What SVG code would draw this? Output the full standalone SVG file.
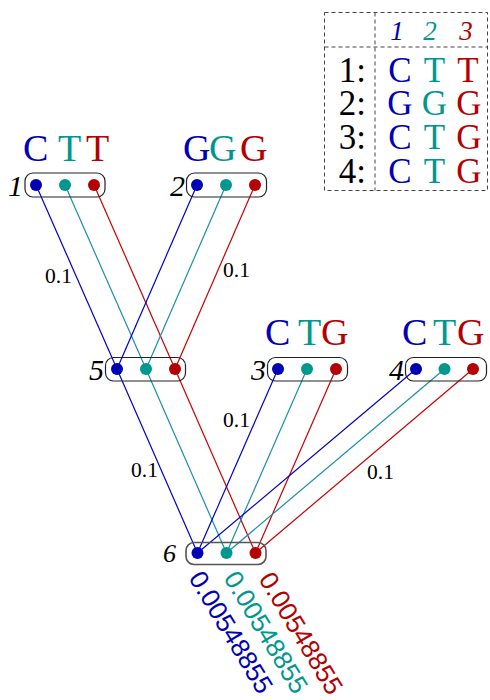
<svg xmlns="http://www.w3.org/2000/svg" width="490" height="700" viewBox="0 0 490 700">
<style>
.bx{fill:none;stroke:#222;stroke-width:1.2}
.nl{font-family:"Liberation Serif",serif;font-style:italic;font-size:30px;fill:#000;text-anchor:end}
.seq{font-family:"Liberation Serif",serif;font-size:38px}
.tb{font-family:"Liberation Serif",serif;font-size:35px;text-anchor:middle}
.hd{font-family:"Liberation Serif",serif;font-style:italic;font-size:27px;text-anchor:middle}
.el{font-family:"Liberation Serif",serif;font-size:21.5px;fill:#000}
.pr{font-family:"Liberation Sans",sans-serif;font-size:26px}
.b{fill:#0000b4}.t{fill:#00978f}.r{fill:#b40000}
.lb{stroke:#0000c8;stroke-width:1.2;fill:none}
.lt{stroke:#1a8fac;stroke-width:1.2;fill:none}
.lr{stroke:#c80000;stroke-width:1.2;fill:none}
.dash{fill:none;stroke:#444;stroke-width:1;stroke-dasharray:4,3}
</style>
<g id="connectors">
<line class="lb" x1="36" y1="185" x2="117" y2="369"/>
<line class="lt" x1="65" y1="185" x2="146" y2="369"/>
<line class="lr" x1="94" y1="185" x2="175" y2="369"/>
<line class="lb" x1="197" y1="185" x2="117" y2="369"/>
<line class="lt" x1="226" y1="185" x2="146" y2="369"/>
<line class="lr" x1="255" y1="185" x2="175" y2="369"/>
<line class="lb" x1="117" y1="369" x2="197.5" y2="553"/>
<line class="lt" x1="146" y1="369" x2="226.5" y2="553"/>
<line class="lr" x1="175" y1="369" x2="255.5" y2="553"/>
<line class="lb" x1="278" y1="369" x2="197.5" y2="553"/>
<line class="lt" x1="307" y1="369" x2="226.5" y2="553"/>
<line class="lr" x1="336" y1="369" x2="255.5" y2="553"/>
<line class="lb" x1="416" y1="369" x2="197.5" y2="553"/>
<line class="lt" x1="444.5" y1="369" x2="226.5" y2="553"/>
<line class="lr" x1="473" y1="369" x2="255.5" y2="553"/>
<text class="el" x="45" y="283">0.1</text>
<text class="el" x="223" y="277">0.1</text>
<text class="el" x="223" y="427">0.1</text>
<text class="el" x="131" y="477">0.1</text>
<text class="el" x="367" y="479">0.1</text>
</g>
<g id="node1">
<text class="seq" y="161"><tspan class="b" x="23">C</tspan><tspan class="t" x="58">T</tspan><tspan class="r" x="86">T</tspan></text>
<rect class="bx" x="25" y="173" width="80" height="24" rx="8"/>
<text class="nl" x="23" y="196">1</text>
<circle class="b" cx="36" cy="185" r="6"/><circle class="t" cx="65" cy="185" r="6"/><circle class="r" cx="94" cy="185" r="6"/>
</g>
<g id="node2">
<text class="seq" y="161"><tspan class="b" x="183">G</tspan><tspan class="t" x="209">G</tspan><tspan class="r" x="240">G</tspan></text>
<rect class="bx" x="186.5" y="173" width="80" height="24" rx="8"/>
<text class="nl" x="185" y="196">2</text>
<circle class="b" cx="197" cy="185" r="6"/><circle class="t" cx="226" cy="185" r="6"/><circle class="r" cx="255" cy="185" r="6"/>
</g>
<g id="node5">
<rect class="bx" x="105.5" y="357.5" width="80" height="23.5" rx="8"/>
<text class="nl" x="104" y="380">5</text>
<circle class="b" cx="117" cy="369" r="6"/><circle class="t" cx="146" cy="369" r="6"/><circle class="r" cx="175" cy="369" r="6"/>
</g>
<g id="node3">
<text class="seq" y="345"><tspan class="b" x="265">C</tspan><tspan class="t" x="298">T</tspan><tspan class="r" x="321">G</tspan></text>
<rect class="bx" x="267.5" y="357.5" width="80" height="23.5" rx="8"/>
<text class="nl" x="266" y="380">3</text>
<circle class="b" cx="278" cy="369" r="6"/><circle class="t" cx="307" cy="369" r="6"/><circle class="r" cx="336" cy="369" r="6"/>
</g>
<g id="node4">
<text class="seq" y="345"><tspan class="b" x="402">C</tspan><tspan class="t" x="433">T</tspan><tspan class="r" x="457">G</tspan></text>
<rect class="bx" x="405.5" y="357.5" width="81" height="23.5" rx="8"/>
<text class="nl" x="404" y="380">4</text>
<circle class="b" cx="416" cy="369" r="6"/><circle class="t" cx="444.5" cy="369" r="6"/><circle class="r" cx="473" cy="369" r="6"/>
</g>
<g id="node6">
<rect x="186" y="542.5" width="80" height="22" rx="8" fill="none" stroke="#555" stroke-width="1.6"/>
<text class="nl" x="176" y="562" style="font-size:26px">6</text>
<circle class="b" cx="197.5" cy="553" r="6"/><circle class="t" cx="226.5" cy="553" r="6"/><circle class="r" cx="255.5" cy="553" r="6"/>
<text class="pr b" transform="translate(188,578) rotate(59)">0.00548855</text>
<text class="pr t" transform="translate(223,578) rotate(59)">0.00548855</text>
<text class="pr r" transform="translate(258,579) rotate(59)">0.00548855</text>
</g>
<g id="table">
<rect class="dash" x="324.5" y="12.5" width="163" height="178"/>
<line class="dash" x1="375" y1="12.5" x2="375" y2="190.5"/>
<line class="dash" x1="324.5" y1="47" x2="487.5" y2="47"/>
<text class="hd b" x="397" y="40">1</text>
<text class="hd t" x="430" y="40">2</text>
<text class="hd r" x="466" y="40">3</text>
<text class="tb" x="366" y="81.5" style="text-anchor:end">1:</text>
<text class="tb" x="366" y="115" style="text-anchor:end">2:</text>
<text class="tb" x="366" y="148.5" style="text-anchor:end">3:</text>
<text class="tb" x="366" y="182.5" style="text-anchor:end">4:</text>
<text class="tb b" x="400" y="81.5">C</text><text class="tb t" x="434.5" y="81.5">T</text><text class="tb r" x="468" y="81.5">T</text>
<text class="tb b" x="400" y="115">G</text><text class="tb t" x="434.5" y="115">G</text><text class="tb r" x="469" y="115">G</text>
<text class="tb b" x="400" y="148.5">C</text><text class="tb t" x="434.5" y="148.5">T</text><text class="tb r" x="469" y="148.5">G</text>
<text class="tb b" x="400" y="182.5">C</text><text class="tb t" x="434.5" y="182.5">T</text><text class="tb r" x="469" y="182.5">G</text>
</g>
</svg>
